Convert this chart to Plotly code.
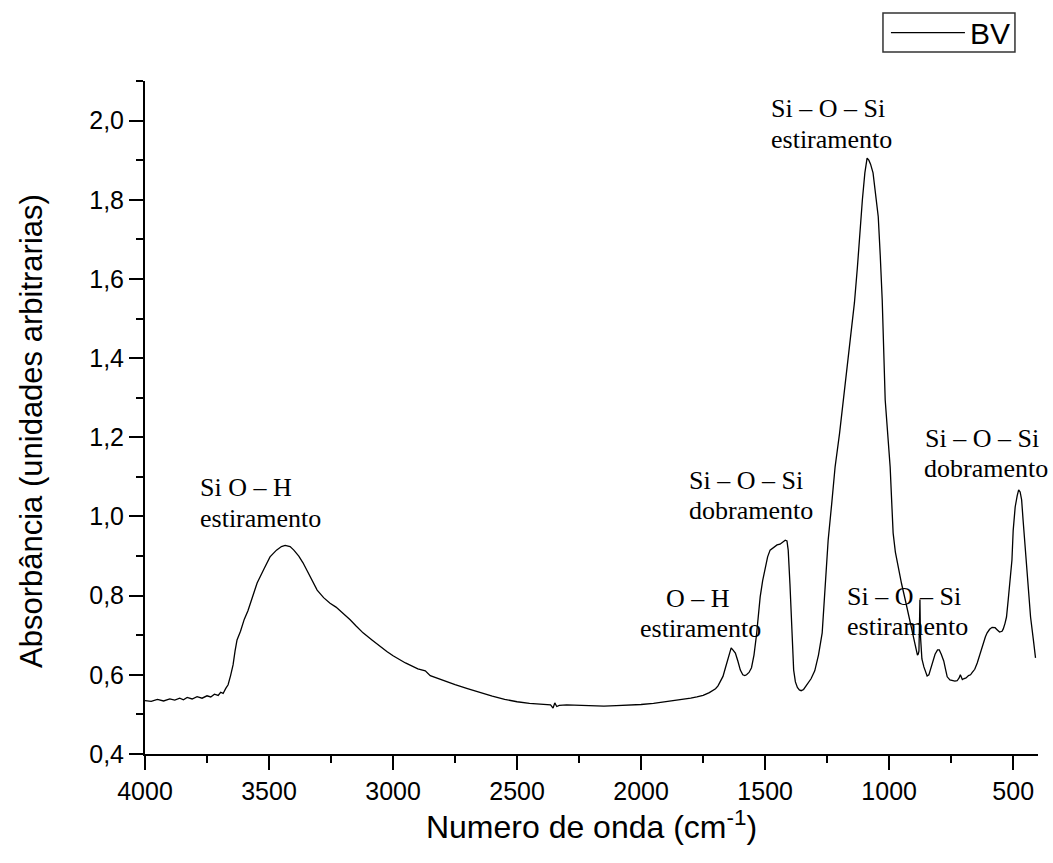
import plotly.graph_objects as go

# FTIR spectrum of sample BV (wavenumber in cm^-1, absorbance in arbitrary units)
wavenumber = [
    4000, 3975, 3950, 3925, 3900, 3880, 3860, 3845, 3830, 3810, 3790, 3770, 3750,
    3735, 3720, 3705, 3695, 3685, 3675, 3665, 3655, 3645, 3637, 3629, 3615, 3600,
    3585, 3570, 3548, 3520, 3496, 3470, 3450, 3435, 3415, 3400, 3380, 3363, 3345,
    3330, 3306, 3280, 3254, 3230, 3210, 3173, 3150, 3121, 3085, 3050, 3025, 3000,
    2950, 2900, 2870, 2850, 2800, 2750, 2700, 2650, 2600, 2550, 2500, 2450, 2400,
    2365, 2355, 2348, 2340, 2330, 2300, 2250, 2200, 2150, 2100, 2050, 2000, 1950,
    1900, 1850, 1800, 1775, 1750, 1725, 1700, 1690, 1680, 1670, 1660, 1650, 1642,
    1637, 1630, 1620, 1610, 1600, 1590, 1582, 1575, 1565, 1555, 1545, 1535, 1520,
    1510, 1500, 1490, 1480, 1465, 1452, 1440, 1430, 1419, 1412, 1407, 1400, 1395,
    1390, 1385, 1378, 1370, 1362, 1355, 1345, 1330, 1315, 1300, 1285, 1270, 1258,
    1246, 1232, 1218, 1200, 1185, 1170, 1155, 1140, 1128, 1118, 1108, 1098,
    1089, 1082, 1075, 1065, 1055, 1044, 1036, 1028, 1016, 1005, 996, 990, 984, 975,
    964, 950, 935, 920, 907, 897, 889, 886, 883, 880, 878, 876, 874, 872, 868, 860,
    853, 847, 840, 832, 825, 815, 805, 798, 790, 780, 772, 766, 755, 745, 735, 726,
    718, 713, 709, 705, 700, 690, 680, 672, 665, 655, 645, 633, 620, 612, 605, 595,
    585, 573, 565, 555, 545, 540, 533, 527, 520, 512, 505, 500, 492, 484, 478, 472,
    466, 460, 450, 440, 430, 419, 410, 400,
]
absorbance = [
    0.535, 0.533, 0.538, 0.534, 0.539, 0.536, 0.541, 0.537, 0.543, 0.539, 0.545, 0.541, 0.547,
    0.544, 0.551, 0.548, 0.556, 0.553, 0.565, 0.575, 0.598, 0.625, 0.660, 0.688, 0.710, 0.740,
    0.762, 0.790, 0.832, 0.868, 0.898, 0.915, 0.924, 0.927, 0.924, 0.915, 0.900, 0.883, 0.862,
    0.845, 0.814, 0.795, 0.781, 0.771, 0.760, 0.739, 0.724, 0.706, 0.688, 0.670, 0.659, 0.648,
    0.630, 0.615, 0.610, 0.598, 0.586, 0.575, 0.565, 0.555, 0.546, 0.538, 0.532, 0.528, 0.526,
    0.524, 0.516, 0.529, 0.520, 0.523, 0.524, 0.523, 0.522, 0.521, 0.522, 0.523, 0.525, 0.528,
    0.532, 0.536, 0.541, 0.544, 0.548, 0.555, 0.565, 0.572, 0.585, 0.596, 0.618, 0.640, 0.660,
    0.668, 0.663, 0.655, 0.635, 0.612, 0.600, 0.598, 0.600, 0.606, 0.618, 0.650, 0.700, 0.797,
    0.838, 0.872, 0.898, 0.915, 0.922, 0.928, 0.930, 0.935, 0.940, 0.938, 0.915, 0.830, 0.750,
    0.670, 0.612, 0.582, 0.568, 0.562, 0.560, 0.563, 0.575, 0.590, 0.610, 0.650, 0.706, 0.810,
    0.940, 1.030, 1.125, 1.210, 1.294, 1.370, 1.450, 1.540, 1.630, 1.720, 1.800, 1.868,
    1.905, 1.900, 1.890, 1.868, 1.820, 1.757, 1.660, 1.547, 1.294, 1.200, 1.125, 1.040, 0.958, 0.910,
    0.872, 0.830, 0.789, 0.745, 0.706, 0.678, 0.655, 0.650, 0.652, 0.660, 0.720, 0.790, 0.700,
    0.660, 0.640, 0.620, 0.605, 0.597, 0.600, 0.615, 0.630, 0.652, 0.663, 0.663, 0.652, 0.635, 0.612,
    0.595, 0.587, 0.585, 0.584, 0.585, 0.592, 0.600, 0.594, 0.588, 0.590, 0.592, 0.598, 0.600,
    0.606, 0.614, 0.630, 0.655, 0.680, 0.696, 0.706, 0.715, 0.720, 0.719, 0.714, 0.708, 0.710,
    0.716, 0.730, 0.746, 0.790, 0.840, 0.890, 0.965, 1.024, 1.052, 1.067, 1.062, 1.042, 0.990,
    0.915, 0.840, 0.746, 0.690, 0.643,
]

series_name = "BV"

# axis ticks
x_tick_vals = [4000, 3500, 3000, 2500, 2000, 1500, 1000, 500]
x_tick_text = ["4000", "3500", "3000", "2500", "2000", "1500", "1000", "500"]
y_tick_vals = [0.4, 0.6, 0.8, 1.0, 1.2, 1.4, 1.6, 1.8, 2.0]
y_tick_text = ["0,4", "0,6", "0,8", "1,0", "1,2", "1,4", "1,6", "1,8", "2,0"]

x_title = "Numero de onda (cm<sup>-1</sup>)"
y_title = "Absorb\u00e2ncia (unidades arbitrarias)"

# band assignments: (first line, second line)
band_labels = [
    ("Si O \u2013 H", "estiramento"),
    ("O \u2013 H", "estiramento"),
    ("Si \u2013 O \u2013 Si", "dobramento"),
    ("Si \u2013 O \u2013 Si", "estiramento"),
    ("Si \u2013 O \u2013 Si", "dobramento"),
    ("Si \u2013 O \u2013 Si", "estiramento"),
]

# label placement in data coordinates: (x line1, y line1, anchor1, x line2, y line2)
label_places = [
    (3782, 1.072, "left", 3782, 0.996),
    (1770, 0.792, "center", 2008, 0.718),
    (1810, 1.090, "left", 1810, 1.016),
    (1480, 2.030, "left", 1480, 1.951),
    (859, 1.198, "left", 863, 1.120),
    (1173, 0.799, "left", 1173, 0.723),
]

sans = "Arial, Liberation Sans, sans-serif"
serif = "Times New Roman, Liberation Serif, serif"

fig = go.Figure()
fig.add_trace(go.Scatter(
    x=wavenumber, y=absorbance, mode="lines", name=series_name,
    line=dict(color="black", width=1.3),
))

annotations = []
for (l1, l2), (x1, y1, a1, x2, y2) in zip(band_labels, label_places):
    annotations.append(dict(x=x1, y=y1, xref="x", yref="y", text=l1, showarrow=False,
                            xanchor=a1, yanchor="middle", borderpad=0,
                            font=dict(family=serif, size=26, color="black")))
    annotations.append(dict(x=x2, y=y2, xref="x", yref="y", text=l2, showarrow=False,
                            xanchor="left", yanchor="middle", borderpad=0,
                            font=dict(family=serif, size=26, color="black")))

# vertical axis title, centred on the text column left of the tick labels
annotations.append(dict(x=-0.1265, y=0.48, xref="paper", yref="paper", text=y_title,
                        showarrow=False, textangle=-90, xanchor="center", yanchor="middle",
                        font=dict(family=sans, size=31, color="black")))

fig.update_layout(
    width=1053, height=863,
    margin=dict(l=145, r=15, t=81, b=109, autoexpand=False),
    paper_bgcolor="white", plot_bgcolor="white",
    showlegend=True,
    legend=dict(
        x=0.9753, y=1.072, xanchor="right", yanchor="middle",
        borderwidth=0, bgcolor="rgba(0,0,0,0)",
        font=dict(family=sans, size=30, color="black"),
        itemwidth=74, tracegroupgap=0,
    ),
    # frame around the legend entry
    shapes=[dict(type="rect", xref="paper", yref="paper",
                 x0=0.8264, x1=0.9742, y0=1.0431, y1=1.1010,
                 line=dict(color="#333333", width=1.5), layer="above")],
    annotations=annotations,
)

fig.update_xaxes(
    range=[4000, 400], autorange=False,
    tickvals=x_tick_vals, ticktext=x_tick_text,
    ticks="outside", ticklen=14, tickwidth=2, tickcolor="black",
    minor=dict(dtick=250, tick0=0, ticks="outside", ticklen=7, tickwidth=2, tickcolor="black"),
    showline=True, linewidth=2, linecolor="black",
    showgrid=False, zeroline=False, mirror=False,
    tickfont=dict(family=sans, size=25, color="black"),
    title=dict(text=x_title, font=dict(family=sans, size=32, color="black"), standoff=12),
)
fig.update_yaxes(
    range=[0.4, 2.1], autorange=False,
    tickvals=y_tick_vals, ticktext=y_tick_text,
    ticks="outside", ticklen=14, tickwidth=2, tickcolor="black",
    minor=dict(dtick=0.1, tick0=0, ticks="outside", ticklen=7, tickwidth=2, tickcolor="black"),
    showline=True, linewidth=2, linecolor="black",
    showgrid=False, zeroline=False, mirror=False,
    tickfont=dict(family=sans, size=25, color="black"),
)

fig.write_html("out.html")
